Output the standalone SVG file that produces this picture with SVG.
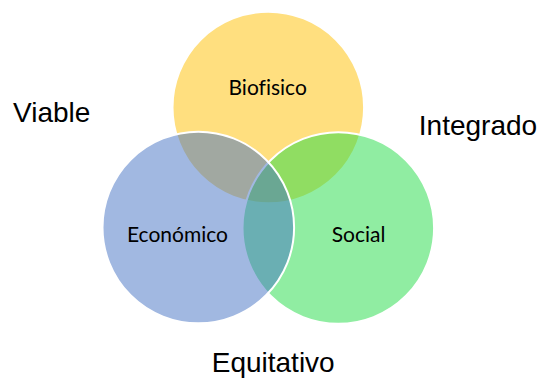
<svg xmlns="http://www.w3.org/2000/svg" width="541" height="379" viewBox="0 0 541 379">
<style>
.c{stroke:#fff;stroke-width:2;fill-opacity:0.5}
.in{font-family:Lato,"Open Sans",sans-serif;font-size:21px;fill:#000;text-anchor:middle;font-variant-ligatures:none}
.out{font-family:"Liberation Sans",Arial,sans-serif;font-size:28px;fill:#000;text-anchor:middle}
</style>
<rect width="541" height="379" fill="#fff"/>
<g id="biofisico">
<circle class="c" cx="268.3" cy="107.5" r="95.8" fill="#FFC000"/>
</g>
<g id="social">
<circle class="c" cx="338.3" cy="228" r="95.8" fill="#22DC46"/>
</g>
<g id="economico">
<circle class="c" cx="198.3" cy="227.5" r="95.8" fill="#4472C4"/>
</g>
<g id="labels">
<text class="in" x="267.7" y="95">Biofisico</text>
<text class="in" x="177.5" y="241.7">Económico</text>
<text class="in" x="358.5" y="241.7">Social</text>
</g>
<g id="viable"><text class="out" x="51.7" y="121.7">Viable</text></g>
<g id="integrado"><text class="out" x="478" y="135">Integrado</text></g>
<g id="equitativo"><text class="out" x="273.2" y="372.3">Equitativo</text></g>
<g id="connectors"></g>
</svg>
